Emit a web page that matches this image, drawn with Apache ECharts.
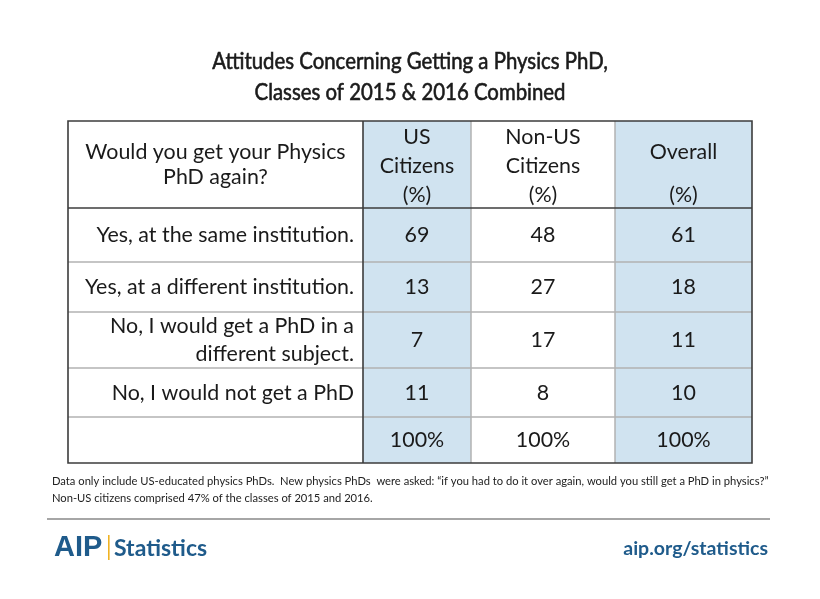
<!DOCTYPE html>
<html><head><meta charset="utf-8">
<script src="https://cdn.jsdelivr.net/npm/echarts@6/dist/echarts.min.js"></script>
<style>html,body{margin:0;padding:0;background:#fff}#c{width:820px;height:599px}</style>
</head><body><div id="c"></div>
<script>
// ---------- data ----------
const titleText = 'Attitudes Concerning Getting a Physics PhD,\nClasses of 2015 & 2016 Combined';
const headers = ['Would you get your Physics\nPhD again?', 'US\nCitizens\n(%)', 'Non-US\nCitizens\n(%)', 'Overall\n(%)'];
const rowLabels = ['Yes, at the same institution.', 'Yes, at a different institution.', 'No, I would get a PhD in a\ndifferent subject.', 'No, I would not get a PhD', ''];
const usCitizens = [69, 13, 7, 11];
const nonUsCitizens = [48, 27, 17, 8];
const overall = [61, 18, 11, 10];
const totalRow = ['100%', '100%', '100%'];
const footnoteText = 'Data only include US-educated physics PhDs.  New physics PhDs  were asked: \u201cif you had to do it over again, would you still get a PhD in physics?\u201d\nNon-US citizens comprised 47% of the classes of 2015 and 2016.';
const brandText = ['AIP', 'Statistics', 'aip.org/statistics'];

// ---------- layout ----------
const colEdges = [0, 295, 403, 547, 684];
const rowEdges = [0, 87, 141, 191, 247, 296, 342];
const headLineHeights = [25, 29, 29, 43];
const headOffsets = [0, 1.5, 1.5, 9];
const FONT = 'Lato, "Open Sans", sans-serif';
const BLUE_FILL = '#d0e3f0';
const BRAND = '#1f5b8b';

const cells = [];
headers.forEach((h, c) => cells.push({c: c, r: 0, t: h, k: 'head'}));
rowLabels.forEach((lab, i) => cells.push({c: 0, r: i + 1, t: lab, k: 'label'}));
[usCitizens, nonUsCitizens, overall].forEach((arr, j) => {
  arr.forEach((v, i) => cells.push({c: j + 1, r: i + 1, t: String(v), k: 'val'}));
  cells.push({c: j + 1, r: arr.length + 1, t: totalRow[j], k: 'val'});
});

const chart = echarts.init(document.getElementById('c'), null, {renderer: 'canvas'});

function cellItem(params, api) {
  const d = cells[params.dataIndex];
  const p0 = api.coord([colEdges[d.c], rowEdges[d.r]]);
  const p1 = api.coord([colEdges[d.c + 1], rowEdges[d.r + 1]]);
  const fill = (d.c === 1 || d.c === 3) ? BLUE_FILL : '#ffffff';
  const cy = (p0[1] + p1[1]) / 2;
  let tx, align, lh = 28, off = 0.5;
  if (d.k === 'label') { tx = p1[0] - 9; align = 'right'; }
  else { tx = (p0[0] + p1[0]) / 2; align = 'center'; }
  if (d.k === 'head') { lh = headLineHeights[d.c]; off = headOffsets[d.c]; }
  return {
    type: 'group',
    children: [
      {type: 'rect', shape: {x: p0[0], y: p0[1], width: p1[0] - p0[0], height: p1[1] - p0[1]}, style: {fill: fill}},
      {type: 'text', style: {text: d.t, x: tx, y: cy + off, align: align, verticalAlign: 'middle',
        font: '21.4px ' + FONT, lineHeight: lh, fill: '#1a1a1a'}}
    ]
  };
}

function gridItem(params, api) {
  const ch = [];
  const xL = api.coord([colEdges[0], 0])[0], xR = api.coord([colEdges[4], 0])[0];
  const yT = api.coord([0, rowEdges[0]])[1], yB = api.coord([0, rowEdges[6]])[1];
  const light = {stroke: '#b2b2b2', lineWidth: 1.5};
  const dark = {stroke: '#3c3c3c', lineWidth: 1.6};
  [2, 3, 4, 5].forEach(i => { const y = api.coord([0, rowEdges[i]])[1]; ch.push({type: 'line', shape: {x1: xL, y1: y, x2: xR, y2: y}, style: light}); });
  [2, 3].forEach(i => { const x = api.coord([colEdges[i], 0])[0]; ch.push({type: 'line', shape: {x1: x, y1: yT, x2: x, y2: yB}, style: light}); });
  const yH = api.coord([0, rowEdges[1]])[1];
  ch.push({type: 'line', shape: {x1: xL, y1: yH, x2: xR, y2: yH}, style: dark});
  const xC = api.coord([colEdges[1], 0])[0];
  ch.push({type: 'line', shape: {x1: xC, y1: yT, x2: xC, y2: yB}, style: dark});
  ch.push({type: 'rect', shape: {x: xL, y: yT, width: xR - xL, height: yB - yT}, style: {fill: null, stroke: '#3c3c3c', lineWidth: 1.6}});
  return {type: 'group', children: ch};
}

chart.setOption({
  animation: false,
  backgroundColor: '#ffffff',
  grid: {left: 68, top: 121, width: 684, height: 342},
  xAxis: {type: 'value', min: colEdges[0], max: colEdges[colEdges.length - 1], show: false},
  yAxis: {type: 'value', min: rowEdges[0], max: rowEdges[rowEdges.length - 1], inverse: true, show: false},
  series: [
    {type: 'custom', renderItem: cellItem, data: cells.map(d => [d.c, d.r]), silent: true},
    {type: 'custom', renderItem: gridItem, data: [[0, 0]], silent: true, z: 3}
  ],
  graphic: [
    {type: 'text', x: 410, y: 77.5, scaleX: 0.886, style: {text: titleText, x: 0, y: 0, align: 'center', verticalAlign: 'middle',
      font: '23px ' + FONT, lineHeight: 31, fill: '#1a1a1a', stroke: '#1a1a1a', lineWidth: 0.6}},
    {type: 'text', left: 52, top: 473, style: {text: footnoteText, font: '11.2px ' + FONT, lineHeight: 17, fill: '#222222'}},
    {type: 'line', shape: {x1: 47, y1: 519, x2: 770, y2: 519}, style: {stroke: '#a6a6a6', lineWidth: 2}},
    {type: 'text', x: 54, y: 548, style: {text: brandText[0], x: 0, y: 0, verticalAlign: 'middle', font: 'bold 29px "Liberation Sans", sans-serif', fill: BRAND}},
    {type: 'rect', shape: {x: 108, y: 535, width: 1.6, height: 25}, style: {fill: '#f0b323'}},
    {type: 'text', x: 114, y: 549, style: {text: brandText[1], x: 0, y: 0, verticalAlign: 'middle', font: 'bold 23px ' + FONT, fill: BRAND}},
    {type: 'text', x: 768, y: 549, style: {text: brandText[2], x: 0, y: 0, align: 'right', verticalAlign: 'middle', font: 'bold 19.5px ' + FONT, fill: BRAND}}
  ]
});
</script></body></html>
